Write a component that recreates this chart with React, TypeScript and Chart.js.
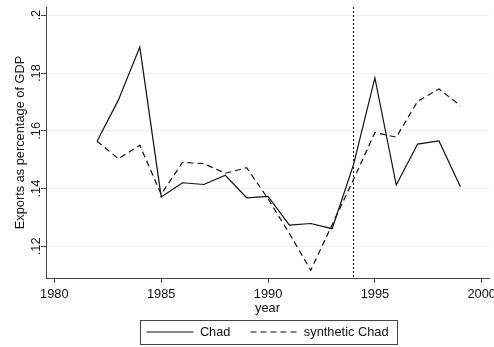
import { useEffect, useRef } from 'react';
import { Chart, registerables } from 'chart.js';

Chart.register(...registerables);

// Exports as a share of GDP, Chad vs. its synthetic control
const YEARS = [1982, 1983, 1984, 1985, 1986, 1987, 1988, 1989, 1990, 1991, 1992, 1993, 1994, 1995, 1996, 1997, 1998, 1999];
const CHAD = [0.1564, 0.1707, 0.189, 0.1371, 0.142, 0.1414, 0.1446, 0.1368, 0.1373, 0.1273, 0.1279, 0.1261, 0.1483, 0.1783, 0.1412, 0.1554, 0.1565, 0.1406];
const SYNTHETIC_CHAD = [0.1564, 0.1503, 0.155, 0.138, 0.1491, 0.1486, 0.1453, 0.1472, 0.1365, 0.1244, 0.1117, 0.1275, 0.1431, 0.1594, 0.1578, 0.1702, 0.1745, 0.1687];

const X_TICKS = [1980, 1985, 1990, 1995, 2000];
const Y_TICKS = [0.12, 0.14, 0.16, 0.18, 0.2];
const X_MIN = 1979.61;
const X_MAX = 2000.34;
const Y_MIN = 0.10902;
const Y_MAX = 0.20287;
const TREATMENT_YEAR = 1994;

const FONT_FAMILY = '"Liberation Sans", Arial, Helvetica, sans-serif';
const TEXT_COLOR = '#111';
const AXIS_COLOR = '#444';
const GRID_COLOR = '#e8f1f3';
const LINE_COLOR = '#111';
const LINE_WIDTH = 1.2;

const font = { family: FONT_FAMILY, size: 12.8 };

// dotted vertical reference line at the treatment year
const treatmentLine = {
  id: 'treatmentLine',
  afterDatasetsDraw(chart: any) {
    const { ctx, chartArea, scales } = chart;
    const x = Math.floor(scales.x.getPixelForValue(TREATMENT_YEAR)) + 0.5;
    ctx.save();
    ctx.strokeStyle = '#000';
    ctx.lineWidth = 1;
    ctx.setLineDash([2, 2]);
    ctx.beginPath();
    ctx.moveTo(x, chartArea.top);
    ctx.lineTo(x, chartArea.bottom);
    ctx.stroke();
    ctx.restore();
  },
};

// thin frame around the legend entries
const legendFrame = {
  id: 'legendFrame',
  afterDraw(chart: any) {
    const legend = chart.legend;
    const boxes = legend && legend.legendHitBoxes;
    if (!boxes || !boxes.length) return;
    const first = boxes[0];
    const last = boxes[boxes.length - 1];
    const cy = first.top + first.height / 2;
    const left = Math.round(first.left - 6) + 0.5;
    const right = Math.round(last.left + last.width + 8) + 0.5;
    const top = Math.round(cy - 12) + 0.5;
    const bottom = Math.round(cy + 12) + 0.5;
    const { ctx } = chart;
    ctx.save();
    ctx.strokeStyle = AXIS_COLOR;
    ctx.lineWidth = 1;
    ctx.setLineDash([]);
    ctx.strokeRect(left, top, right - left, bottom - top);
    ctx.restore();
  },
};

export default function App() {
  const canvasRef = useRef<HTMLCanvasElement | null>(null);

  useEffect(() => {
    if (!canvasRef.current) return;
    const chart = new Chart(canvasRef.current, {
      type: 'line',
      data: {
        datasets: [
          {
            label: 'Chad',
            data: YEARS.map((x, i) => ({ x, y: CHAD[i] })),
            borderColor: LINE_COLOR,
            backgroundColor: LINE_COLOR,
            borderWidth: LINE_WIDTH,
            pointRadius: 0,
            fill: false,
            tension: 0,
          },
          {
            label: 'synthetic Chad',
            data: YEARS.map((x, i) => ({ x, y: SYNTHETIC_CHAD[i] })),
            borderColor: LINE_COLOR,
            backgroundColor: LINE_COLOR,
            borderWidth: LINE_WIDTH,
            borderDash: [6, 4],
            pointRadius: 0,
            fill: false,
            tension: 0,
          },
        ],
      },
      options: {
        responsive: false,
        animation: false,
        devicePixelRatio: 1,
        events: [],
        layout: { padding: { left: 0, right: 5, top: 7, bottom: -1.4 } },
        plugins: {
          legend: {
            position: 'bottom',
            fullSize: false,
            labels: {
              usePointStyle: true,
              pointStyle: 'line',
              pointStyleWidth: 47,
              padding: 20,
              color: TEXT_COLOR,
              font,
              generateLabels: (chart: any) =>
                Chart.defaults.plugins.legend.labels.generateLabels(chart).map((item: any) => {
                  const ds = chart.data.datasets[item.datasetIndex];
                  return {
                    ...item,
                    lineDash: ds.borderDash || [],
                    lineWidth: LINE_WIDTH,
                    strokeStyle: LINE_COLOR,
                    pointStyle: 'line',
                  };
                }),
            },
          },
          tooltip: { enabled: false },
        },
        scales: {
          x: {
            type: 'linear',
            min: X_MIN,
            max: X_MAX,
            afterBuildTicks: (scale: any) => {
              scale.ticks = X_TICKS.map((value) => ({ value }));
            },
            afterFit: (scale: any) => {
              scale.height = 27.6;
              scale.paddingLeft = 0;
              scale.paddingRight = 0;
            },
            grid: {
              drawOnChartArea: false,
              drawTicks: true,
              tickLength: 5,
              tickColor: AXIS_COLOR,
            },
            border: { display: true, color: AXIS_COLOR, width: 1 },
            ticks: {
              padding: 3.4,
              color: TEXT_COLOR,
              font,
              maxRotation: 0,
              minRotation: 0,
              autoSkip: false,
              callback: (v: any) => String(v),
            },
            title: {
              display: true,
              text: 'year',
              color: TEXT_COLOR,
              font,
              padding: { top: 0, bottom: -10.4 },
            },
          },
          y: {
            type: 'linear',
            min: Y_MIN,
            max: Y_MAX,
            afterBuildTicks: (scale: any) => {
              scale.ticks = Y_TICKS.map((value) => ({ value }));
            },
            afterFit: (scale: any) => {
              scale.width = 46;
              scale.paddingTop = 0;
              scale.paddingBottom = 0;
            },
            grid: {
              color: GRID_COLOR,
              lineWidth: 1,
              drawTicks: true,
              tickLength: 5,
              tickColor: AXIS_COLOR,
            },
            border: { display: true, color: AXIS_COLOR, width: 1 },
            ticks: {
              padding: -4.6,
              crossAlign: 'center',
              minRotation: 90,
              maxRotation: 90,
              color: TEXT_COLOR,
              font,
              callback: (v: any) => String(Number(v).toFixed(2)).replace(/0+$/, '').replace(/^0\./, '.'),
            },
            title: {
              display: true,
              text: 'Exports as percentage of GDP',
              color: TEXT_COLOR,
              font,
              padding: { top: 12.3, bottom: 0 },
            },
          },
        },
      } as any,
      plugins: [treatmentLine, legendFrame],
    });
    return () => chart.destroy();
  }, []);

  return (
    <div style={{ position: 'fixed', left: 0, top: 0, width: 494, height: 347, background: '#fff' }}>
      <canvas ref={canvasRef} width={494} height={347} style={{ display: 'block' }} />
    </div>
  );
}
